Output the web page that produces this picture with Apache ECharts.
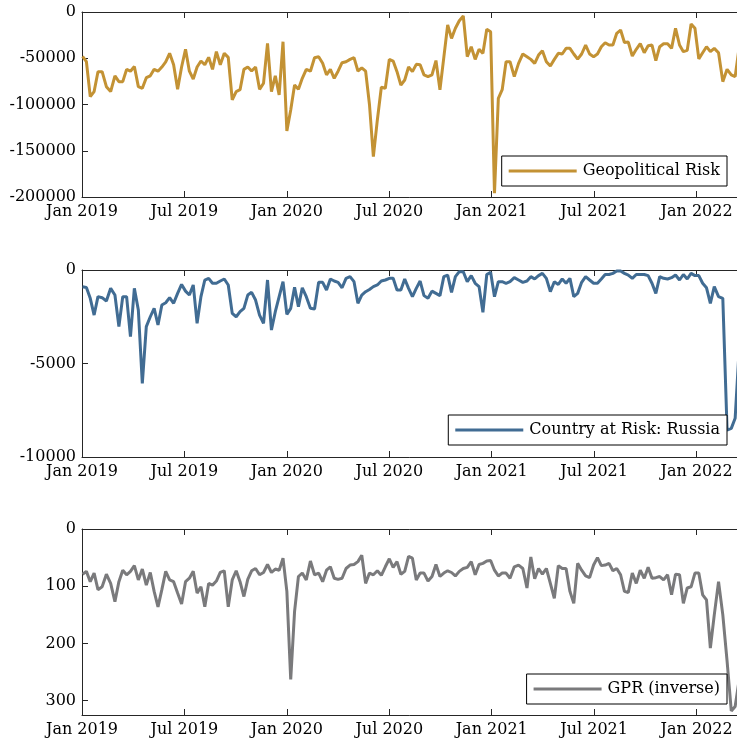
<!DOCTYPE html>
<html>
<head>
<meta charset="utf-8">
<script src="https://cdn.jsdelivr.net/npm/echarts@6/dist/echarts.min.js"></script>
<style>
  html, body { margin: 0; padding: 0; background: #fff; }
  #riskChart { width: 737px; height: 743px; }
</style>
</head>
<body>
<div id="riskChart"></div>
<script>
// weekly observations, first week of Jan 2019 up to mid March 2022
const firstWeek = "2019-01-02";
const weekCount = 168;
const xTickLabels = ["Jan 2019", "Jul 2019", "Jan 2020", "Jul 2020", "Jan 2021", "Jul 2021", "Jan 2022"];

// Geopolitical Risk
const geoRisk = [
  -48000, -53700, -91500, -86000, -64500, -64500, -80700, -86000, -69000, -75300,
  -75300, -62000, -64000, -59000, -80700, -82500, -71000, -69000, -62000, -64000,
  -59500, -54000, -44700, -57000, -83600, -59500, -40300, -64000, -72400, -59500,
  -53000, -57000, -49000, -62000, -42900, -57000, -44700, -49000, -95100, -86000,
  -84000, -62000, -59500, -63800, -59500, -83600, -77000, -33900, -86000, -69000,
  -89700, -32100, -128600, -106000, -79000, -83600, -71700, -62000, -64000, -49400,
  -48300, -55500, -68000, -62000, -71700, -64000, -54800, -53700, -51200, -49400,
  -63800, -60400, -64000, -100000, -156400, -116700, -81400, -82500, -51200, -53000,
  -64500, -79000, -73500, -59500, -64500, -56600, -57000, -68000, -69900, -68000,
  -52500, -84000, -49000, -14000, -28500, -17600, -9400, -4300, -48300, -37500,
  -51200, -40300, -44700, -18700, -21300, -196000, -93300, -84000, -53700, -53700,
  -69900, -55500, -45400, -48300, -51200, -55500, -46500, -41800, -53700, -58400,
  -51200, -44700, -45400, -39300, -39300, -45400, -51000, -45400, -35700, -45400,
  -48300, -45400, -37500, -33200, -35700, -35700, -23000, -19500, -33000, -32500,
  -47600, -40300, -34300, -44000, -36500, -35700, -52500, -37500, -34300, -34300,
  -39300, -17600, -35700, -42900, -41500, -13000, -17600, -50700, -44000, -37500,
  -42900, -39300, -44000, -75300, -62000, -68000, -69900, -39300
];

// Country at Risk: Russia
const russiaRisk = [
  -900, -930, -1515, -2410, -1425, -1480, -1660, -980, -1340, -3030,
  -1425, -1425, -3565, -980, -2140, -6060, -3030, -2500, -2050, -2940,
  -1870, -1750, -1480, -1780, -1250, -770, -1130, -1340, -800, -2850,
  -1425, -535, -445, -710, -710, -590, -480, -800, -2320, -2500,
  -2230, -2050, -1340, -1195, -1605, -2410, -2850, -535, -3210, -2230,
  -1425, -625, -2370, -2050, -930, -1960, -950, -1425, -2050, -2080,
  -660, -660, -1070, -480, -590, -660, -950, -445, -355, -625,
  -1780, -1340, -1160, -1040, -890, -800, -590, -535, -445, -445,
  -1070, -1070, -480, -980, -1425, -980, -590, -1370, -1515, -1130,
  -1250, -1370, -355, -270, -1195, -355, -90, -90, -625, -300,
  -710, -890, -2265, -240, -125, -1425, -625, -625, -710, -625,
  -410, -535, -660, -590, -355, -480, -300, -180, -445, -1160,
  -625, -770, -480, -710, -445, -1425, -1250, -660, -355, -535,
  -710, -710, -480, -240, -240, -180, -55, -55, -180, -270,
  -445, -240, -240, -240, -300, -710, -1250, -355, -445, -480,
  -410, -270, -535, -240, -480, -180, -300, -300, -710, -950,
  -1780, -890, -1425, -1515, -8560, -8470, -7930, -4370
];

// GPR (inverse)
const gprInverse = [
  79, 74, 92, 77, 106, 101, 79, 95, 127, 92,
  72, 80, 74, 64, 89, 70, 98, 76, 109, 136,
  106, 74, 89, 92, 112, 131, 92, 86, 74, 112,
  101, 136, 95, 98, 91, 76, 73, 136, 89, 73,
  92, 118, 88, 73, 69, 80, 76, 62, 76, 70,
  72, 51, 109, 263, 144, 83, 77, 89, 56, 80,
  77, 92, 72, 66, 86, 88, 86, 69, 63, 62,
  57, 46, 95, 77, 80, 73, 81, 66, 52, 67,
  57, 79, 74, 48, 51, 89, 77, 77, 91, 83,
  62, 83, 77, 73, 76, 82, 74, 69, 67, 57,
  80, 62, 60, 56, 55, 72, 82, 77, 77, 86,
  66, 63, 69, 103, 49, 87, 69, 79, 69, 95,
  121, 64, 69, 69, 109, 130, 60, 72, 82, 85,
  63, 50, 64, 63, 60, 73, 69, 80, 109, 111,
  77, 95, 72, 86, 67, 86, 85, 83, 89, 80,
  115, 79, 80, 130, 103, 101, 77, 77, 115, 124,
  208, 150, 92, 150, 231, 318, 310, 265
];

// 周序号 -> 距 2019 年 1 月的月数（带小数），方便在 1 月 / 7 月处打刻度
const toMonths = d => {
  const y = d.getUTCFullYear();
  const m = d.getUTCMonth();
  const days = new Date(Date.UTC(y, m + 1, 0)).getUTCDate();
  return (y - 2019) * 12 + m + (d.getUTCDate() - 1) / days;
};
const weeks = Array.from({ length: weekCount }, (_, i) =>
  toMonths(new Date(Date.parse(firstWeek) + i * 7 * 864e5))
);
const xMax = weeks[weeks.length - 1];

const axisColor = "#262626";
const font = "DejaVu Serif";

const panels = [
  { name: "Geopolitical Risk", values: geoRisk, color: "#c39234", top: 12, height: 185, min: -200000, max: 0, interval: 50000, inverse: false, legendTop: 156 },
  { name: "Country at Risk: Russia", values: russiaRisk, color: "#416c93", top: 270, height: 187, min: -10000, max: 0, interval: 5000, inverse: false, legendTop: 415 },
  { name: "GPR (inverse)", values: gprInverse, color: "#7a7a7c", top: 529, height: 186, min: 0, max: 325, interval: 100, inverse: true, legendTop: 674 },
];

var chartDom = document.getElementById("riskChart");
var myChart = echarts.init(chartDom, null, { renderer: "canvas" });

const grids = [];
const xAxes = [];
const yAxes = [];
const series = [];
const legends = [];

panels.forEach((p, i) => {
  grids.push({ left: 82, right: -2, top: p.top, height: p.height, containLabel: false, outerBoundsMode: "none" });
  // 下方 x 轴（带标签）
  xAxes.push({
    type: "value",
    gridIndex: i,
    position: "bottom",
    min: 0,
    max: xMax,
    interval: 6,
    axisLine: { show: true, onZero: false, lineStyle: { color: axisColor, width: 1 } },
    axisTick: { show: true, inside: true, length: 6, lineStyle: { color: axisColor } },
    splitLine: { show: false },
    axisLabel: {
      show: true,
      margin: 7,
      color: "#000",
      fontFamily: font,
      fontSize: 16,
      showMaxLabel: false,
      formatter: v => (v % 6 === 0 ? xTickLabels[v / 6] || "" : ""),
    },
  });
  // 上方边框
  xAxes.push({
    type: "value",
    gridIndex: i,
    position: "top",
    min: 0,
    max: xMax,
    interval: 6,
    axisLine: { show: true, onZero: false, lineStyle: { color: axisColor, width: 1 } },
    axisTick: { show: true, inside: true, length: 6, lineStyle: { color: axisColor } },
    splitLine: { show: false },
    axisLabel: { show: false },
  });
  yAxes.push({
    type: "value",
    gridIndex: i,
    min: p.min,
    max: p.max,
    interval: p.interval,
    inverse: p.inverse,
    axisLine: { show: true, onZero: false, lineStyle: { color: axisColor, width: 1 } },
    axisTick: { show: true, inside: true, length: 6, lineStyle: { color: axisColor } },
    splitLine: { show: false },
    axisLabel: {
      margin: 6,
      color: "#000",
      fontFamily: font,
      fontSize: 16,
      showMaxLabel: !p.inverse,
      formatter: v => String(v),
    },
  });
  series.push({
    name: p.name,
    type: "line",
    xAxisIndex: i * 2,
    yAxisIndex: i,
    symbol: "none",
    clip: true,
    color: p.color,
    lineStyle: { width: 3, color: p.color },
    data: weeks.map((w, k) => [w, p.values[k]]),
  });
  legends.push({
    data: [p.name],
    right: 10,
    top: p.legendTop,
    orient: "horizontal",
    icon: "rect",
    itemWidth: 68,
    itemHeight: 3,
    padding: [7, 7],
    borderColor: "#000",
    borderWidth: 1,
    borderRadius: 0,
    backgroundColor: "#fff",
    selectedMode: false,
    textStyle: { fontFamily: font, fontSize: 16, color: "#000", padding: [0, 0, 0, 1] },
  });
});

var option = {
  animation: false,
  backgroundColor: "#fff",
  grid: grids,
  xAxis: xAxes,
  yAxis: yAxes,
  legend: legends,
  series: series,
};
option && myChart.setOption(option);
</script>
</body>
</html>
